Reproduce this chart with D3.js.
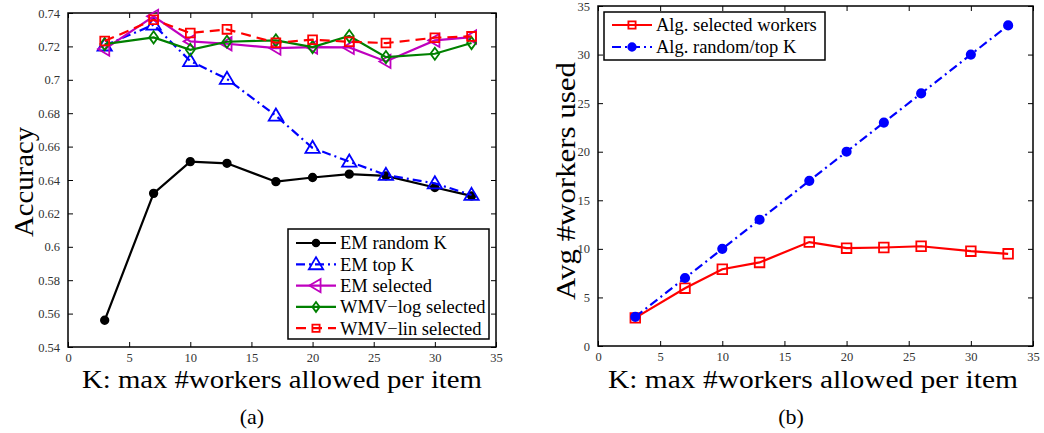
<!DOCTYPE html>
<html><head><meta charset="utf-8">
<script src="https://cdn.jsdelivr.net/npm/d3@7/dist/d3.min.js"></script>
<style>body{margin:0;background:#fff}svg{display:block}text{font-family:"Liberation Serif","Times New Roman",serif}</style>
</head><body>
<svg id="c" width="1044" height="433"></svg>
<script>
const kValues = [3, 7, 10, 13, 17, 20, 23, 26, 30, 33];
const emRandomK = [0.556, 0.632, 0.651, 0.650, 0.639, 0.6415, 0.6435, 0.6425, 0.6355, 0.6305];
const emTopK = [0.7205, 0.733, 0.7112, 0.7005, 0.6785, 0.6592, 0.651, 0.643, 0.638, 0.631];
const emSelected = [0.7184, 0.738, 0.723, 0.7216, 0.719, 0.7196, 0.7194, 0.711, 0.7236, 0.7256];
const wmvLogSelected = [0.7214, 0.7254, 0.718, 0.7228, 0.7236, 0.7196, 0.7262, 0.7136, 0.7156, 0.722];
const wmvLinSelected = [0.7232, 0.736, 0.728, 0.7302, 0.7222, 0.724, 0.7228, 0.722, 0.7252, 0.726];
const algSelectedWorkers = [2.9, 5.95, 7.9, 8.6, 10.7, 10.07, 10.14, 10.27, 9.76, 9.49];
const algRandomTopK = [3, 7, 10, 13, 17, 20, 23, 26, 30, 33];
const xTicks = [0, 5, 10, 15, 20, 25, 30, 35];
const yTicksA = [0.54, 0.56, 0.58, 0.6, 0.62, 0.64, 0.66, 0.68, 0.7, 0.72, 0.74];
const yTicksB = [0, 5, 10, 15, 20, 25, 30, 35];
const legendA = ["EM random K", "EM top K", "EM selected", "WMV\u2212log selected", "WMV\u2212lin selected"];
const legendB = ["Alg. selected workers", "Alg. random/top K"];

const svg = d3.select("#c");

function symbolPath(type, s) {
  switch (type) {
    case "circle": return d3.symbol(d3.symbolCircle, s * s * 0.55)();
    case "triUp": return `M0,${-s*0.55}L${s*0.55},${s*0.38}L${-s*0.55},${s*0.38}Z`;
    case "triLeft": return `M${-s*0.55},0L${s*0.38},${-s*0.55}L${s*0.38},${s*0.55}Z`;
    case "diamond": return `M0,${-s*0.55}L${s*0.4},0L0,${s*0.55}L${-s*0.4},0Z`;
    case "square": return `M${-s*0.4},${-s*0.4}H${s*0.4}V${s*0.4}H${-s*0.4}Z`;
  }
}

function panel(cfg) {
  const g = svg.append("g");
  const x = d3.scaleLinear().domain([0, 35]).range([cfg.x0, cfg.x1]);
  const y = d3.scaleLinear().domain(cfg.yDomain).range([cfg.y1, cfg.y0]);
  const tl = 5;
  g.append("g").attr("transform", `translate(0,${cfg.y1})`)
    .call(d3.axisBottom(x).tickValues(xTicks).tickSize(-tl).tickPadding(6).tickFormat(d3.format("d")));
  g.append("g").attr("transform", `translate(0,${cfg.y0})`)
    .call(d3.axisTop(x).tickValues(xTicks).tickSize(-tl).tickFormat(""));
  g.append("g").attr("transform", `translate(${cfg.x0},0)`)
    .call(d3.axisLeft(y).tickValues(cfg.yTicks).tickSize(-tl).tickPadding(8).tickFormat(cfg.yFmt));
  g.append("g").attr("transform", `translate(${cfg.x1},0)`)
    .call(d3.axisRight(y).tickValues(cfg.yTicks).tickSize(-tl).tickFormat(""));
  g.selectAll(".domain").remove();
  g.selectAll(".tick line").attr("stroke", "#000").attr("stroke-width", 1);
  g.selectAll(".tick text").attr("font-family", "Liberation Serif, serif").attr("font-size", 12.5).attr("fill", "#333");
  g.append("rect").attr("x", cfg.x0).attr("y", cfg.y0).attr("width", cfg.x1 - cfg.x0).attr("height", cfg.y1 - cfg.y0)
    .attr("fill", "none").attr("stroke", "#000").attr("stroke-width", 1.5);

  const line = d3.line().x((d, i) => x(kValues[i])).y(d => y(d));
  cfg.series.forEach(s => {
    g.append("path").datum(s.values).attr("d", line).attr("fill", "none")
      .attr("stroke", s.color).attr("stroke-width", 2.2).attr("stroke-dasharray", s.dash || null);
    g.selectAll(null).data(s.values).join("path")
      .attr("transform", (d, i) => `translate(${x(kValues[i])},${y(d)})`)
      .attr("d", symbolPath(s.marker, s.size))
      .attr("fill", s.fill ? s.color : "none").attr("stroke", s.color).attr("stroke-width", 1.8);
  });

  const L = cfg.legend;
  g.append("rect").attr("x", L.x).attr("y", L.y).attr("width", L.w).attr("height", L.h)
    .attr("fill", "#fff").attr("stroke", "#000").attr("stroke-width", 1.5);
  cfg.series.forEach((s, i) => {
    const yy = L.y + L.first + i * L.step;
    g.append("line").attr("x1", L.x + 8).attr("x2", L.x + 48).attr("y1", yy).attr("y2", yy)
      .attr("stroke", s.color).attr("stroke-width", 2.2).attr("stroke-dasharray", s.dash || null);
    g.append("path").attr("transform", `translate(${L.x + 28},${yy})`).attr("d", symbolPath(s.marker, s.legSize))
      .attr("fill", s.fill ? s.color : "none").attr("stroke", s.color).attr("stroke-width", 1.8);
    g.append("text").attr("x", L.x + 52).attr("y", yy).attr("dy", "0.35em")
      .attr("font-size", 18.5).attr("fill", "#000").text(s.name);
  });

  g.append("text").attr("x", cfg.xTitleX).attr("y", 388).attr("text-anchor", "middle")
    .attr("font-size", 25).attr("textLength", cfg.xTitleLen).attr("lengthAdjust", "spacingAndGlyphs")
    .text("K: max #workers allowed per item");
  g.append("text").attr("x", cfg.capX).attr("y", 424).attr("text-anchor", "middle")
    .attr("font-size", 22).text(cfg.caption);
  g.append("text").attr("transform", `translate(${cfg.yTitleX},${cfg.yTitleY}) rotate(-90)`).attr("text-anchor", "middle")
    .attr("font-size", 27).attr("textLength", cfg.yTitleLen).attr("lengthAdjust", "spacingAndGlyphs").text(cfg.yTitle);
}

panel({
  x0: 68, x1: 496, y0: 13, y1: 347, yDomain: [0.54, 0.74], yTicks: yTicksA,
  yFmt: d => d3.format("")(+d.toFixed(2)),
  yTitle: "Accuracy", yTitleX: 33, yTitleY: 182, yTitleLen: 110,
  xTitleX: 282, xTitleLen: 400, caption: "(a)", capX: 252,
  series: [
    {name: legendA[0], values: emRandomK, color: "#000", marker: "circle", size: 9, fill: true, legSize: 8},
    {name: legendA[1], values: emTopK, color: "#0000ff", marker: "triUp", size: 13, dash: "9,4,2,4", legSize: 13},
    {name: legendA[2], values: emSelected, color: "#bf00bf", marker: "triLeft", size: 12, legSize: 12},
    {name: legendA[3], values: wmvLogSelected, color: "#008000", marker: "diamond", size: 11, legSize: 9},
    {name: legendA[4], values: wmvLinSelected, color: "#ff0000", marker: "square", size: 11, dash: "10,6", legSize: 9}
  ],
  legend: {x: 288, y: 229, w: 201, h: 110, first: 14, step: 21.3}
});

panel({
  x0: 598, x1: 1033, y0: 6, y1: 346, yDomain: [0, 35], yTicks: yTicksB,
  yFmt: d3.format("d"),
  yTitle: "Avg #workers used", yTitleX: 575, yTitleY: 181, yTitleLen: 238,
  xTitleX: 813, xTitleLen: 410, caption: "(b)", capX: 791,
  series: [
    {name: legendB[0], values: algSelectedWorkers, color: "#ff0000", marker: "square", size: 12, legSize: 9},
    {name: legendB[1], values: algRandomTopK, color: "#0000ff", marker: "circle", size: 10, fill: true, dash: "9,4,2,4", legSize: 9}
  ],
  legend: {x: 604, y: 12, w: 221, h: 48, first: 13, step: 22}
});
</script>
</body></html>
